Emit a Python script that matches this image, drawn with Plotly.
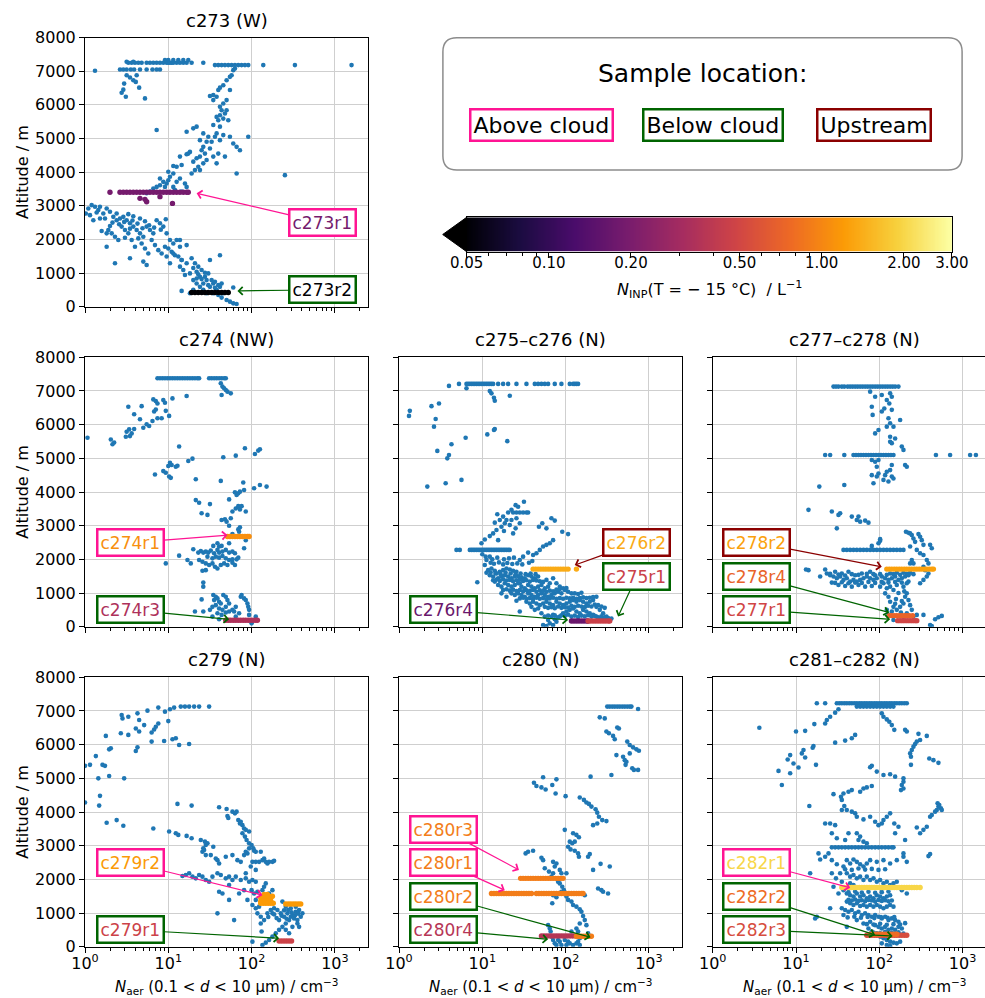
import numpy as np
import plotly.graph_objects as go

W, H = 985, 998
BLUE = '#1f77b4'
FONT = 'DejaVu Sans'
INFERNO = ['#000004', '#1b0c41', '#4a0c6b', '#781c6d', '#a52c60',
           '#cf4446', '#ed6925', '#fb9b06', '#f7d13d', '#fcffa4']
INP_MIN, INP_MAX = 0.05, 3.0
LOC_COLORS = {'above': '#ff1493', 'below': '#006400', 'up': '#8b0000'}

# ---------------------------------------------------------------------------
# Data: x values are log10(N_aer / cm^-3), y values are altitude in m
# scattered blue points: (log10 N_aer, altitude); legs: (altitude, [log10 N_aer, ...])
# ---------------------------------------------------------------------------
c273_bg = [(0.12,7010),(1.78,7030),(1.76,6880),(1.74,6830),(1.80,7080),
 (0.44,6360),(0.46,6450),(0.49,6240),(0.47,6630),(0.54,6810),(0.58,6730),(0.61,6680),(0.65,6510),(0.72,6190),(0.50,6880),(0.62,6880),
 (1.70,6730),(1.66,6580),(1.62,6510),(1.60,6440),(1.58,6240),(1.54,6290),(1.50,6260),(1.54,6140),(1.74,6440),(1.70,6140),(1.66,6040),
 (1.62,5940),(1.62,5690),(1.58,5640),(1.64,5840),(1.70,5840),(1.66,5590),(1.72,5540),(1.54,5400),(1.68,5740),(1.60,5540),(1.62,5350),
 (1.58,5150),(1.56,5050),(1.48,5050),(1.52,4900),(1.46,4900),(1.42,4750),(1.38,4950),(1.30,5300),(1.34,5350),(1.22,5200),(1.42,5150),
 (1.40,4650),(1.44,4550),(1.38,4460),(1.34,4410),(1.30,4310),(1.36,4160),(1.32,4060),(1.28,3960),(1.26,4600),(1.24,4550),(1.22,4530),
 (1.14,4460),(1.16,4210),(1.10,4160),(1.06,4180),(1.82,4750),(1.78,4850),(1.74,5050),(1.86,4650),(1.96,5050),(1.82,3960),(1.66,5100),
 (1.62,4950),(1.68,4460),(1.58,4260),(1.60,4550),(1.54,4460),(1.50,4700),(1.46,4360),(1.38,4060),(1.42,4260),(0.86,5250),(2.40,3910),
 (1.06,3960),(1.02,3860),(1.00,3760),(0.98,3660),(0.96,3560),(0.94,3710),(0.90,3610),(0.86,3560),(0.82,3510),(0.78,3420),(0.74,3370),
 (1.00,4010),(1.14,3810),(1.10,3710),(1.06,3560),(1.20,3660),(1.22,3560),(1.16,3420),(1.08,3470),(0.90,3810),
 (0.01,2770),(0.04,2920),(0.08,3020),(0.12,2970),(0.16,2870),(0.18,2970),(0.22,2770),(0.26,2920),(0.30,2820),(0.34,2670),(0.38,2770),
 (0.42,2620),(0.46,2670),(0.50,2570),(0.54,2480),(0.58,2380),(0.62,2280),(0.66,2180),(0.70,2080),(0.74,2380),(0.78,2280),(0.82,2180),
 (0.86,2570),(0.90,2480),(0.94,2380),(0.98,2180),(1.02,1980),(1.06,1880),(1.10,1980),(1.14,1780),(0.28,2280),(0.32,2180),(0.36,2080),
 (0.40,1980),(0.44,2380),(0.48,2280),(0.52,2180),(0.56,1980),(0.60,1780),(0.64,2030),(0.68,1880),(0.72,1730),(0.76,1580),(0.80,1980),
 (0.84,1830),(0.88,1680),(0.92,1580),(0.96,1780),(1.00,1730),(1.04,1630),(1.08,1530),(1.12,1490),(1.16,1390),(0.38,2570),(0.18,2620),
 (0.10,2570),(0.06,2720),(0.26,2180),(0.26,1780),(0.36,1290),(0.54,1440),(0.70,1340),(0.74,1240),
 (0.33,2500),(0.41,2450),(0.47,2520),(0.57,2560),(0.63,2470),(0.69,2330),(0.77,2420),(0.83,2350),(0.91,2290),(0.97,2600),
 (0.52,2750),(0.58,2690),(0.66,2620),(0.72,2540),(0.14,2800),(0.24,2620),(0.30,2400),(0.20,2250),(0.48,2050),(0.54,2320),
 (0.98,1490),(1.02,1290),(1.06,1580),(1.14,1190),(1.16,1390),(1.18,1090),(1.20,940),(1.22,1290),(1.26,990),(1.30,790),(1.34,1040),
 (1.38,890),(1.42,690),(1.46,790),(1.50,590),(1.54,690),(1.58,500),(1.62,590),(1.38,590),(1.34,690),(1.30,500),(1.26,400),(1.42,500),
 (1.46,400),(1.54,400),(1.60,350),(1.64,270),(1.70,200),(1.74,150),(1.78,100),(1.82,80),(1.16,470),(1.28,1440),(1.32,1290),(1.36,1190),
 (1.40,1090),(1.44,890),(1.48,990),(1.52,790),(1.56,740),(1.60,640),(1.64,690),(1.66,400),(1.78,570),(1.62,1530),(1.50,1390),
 (1.22,1830),(1.14,1980),(1.30,1150),(1.36,960),(1.40,820),(1.48,640),(1.44,1010),(1.34,840),(1.56,560)]
c273_legs = [
 (7050, [0.42,0.46,0.50,0.55,0.59,0.66,0.74,0.81,0.86,0.90]),
 (7250, [0.52,0.56,0.60,0.64,0.68,0.74,0.78,0.82,0.86,0.90,0.94,0.98,1.00,1.02,1.04,1.06,1.10,1.14,1.18,1.22,1.28,1.42]),
 (7330, [0.96,1.00,1.06,1.12,1.18,1.24]),
 (7280, [0.50,0.58]),
 (7180, [1.56,1.60,1.64,1.68,1.72,1.76,1.80,1.84,1.88,1.92,1.96,2.14,2.52,3.20])]
c273r1_pts = [(3400, [0.30,0.42,0.46,0.50,0.54,0.58,0.62,0.66,0.70,0.74,0.78,0.82,0.86,0.90,0.94,0.98,1.02,1.06,1.10,1.14,1.18,1.22,1.24]),
 (3220, [0.66]), (3190, [0.72]), (3120, [0.74]), (3070, [1.05]), (3270, [0.90])]
c273r2_pts = [(420, [1.28,1.32,1.36,1.40,1.44,1.48,1.52,1.56,1.60,1.64,1.68,1.72])]

c274_bg = [(1.63,7230),(1.65,7130),(1.67,7080),(1.69,7030),(1.71,6980),(1.75,6930),(1.64,6880),
 (0.03,5610),(0.31,5560),(0.33,5420),(0.35,5470),(0.52,6530),(0.59,6310),(0.66,6160),(0.68,6550),(0.50,5790),(0.53,5860),(0.54,5660),
 (0.56,5740),(0.59,5870),(0.49,5640),(0.70,5910),(0.74,6010),(0.77,5960),(0.82,6750),(0.83,6390),(0.85,6700),(0.87,6630),(0.81,6110),
 (0.87,6190),(0.92,6190),(0.94,6730),(0.96,6650),(0.97,6410),(1.01,6260),(1.05,6780),(1.22,6850),(0.85,6450),
 (0.84,4520),(0.94,4620),(0.97,4570),(1.00,4770),(1.02,4870),(1.04,4800),(1.01,4460),(1.03,4420),(1.09,4750),(1.11,4780),(1.13,5350),
 (1.24,4920),(1.29,4990),(1.33,4380),(1.66,5030),(1.81,5080),(1.92,5300),(2.04,5130),(2.08,5230),(2.10,5270),(1.63,4330),(1.82,3910),
 (1.84,3960),(1.86,4010),(1.80,3990),(1.90,4280),(1.91,4060),(2.03,4110),(2.10,4210),(2.18,4160),(1.33,3760),(1.37,3680),(1.50,3640),
 (1.40,3370),(1.47,3320),(1.64,3170),(1.68,3190),(1.70,3120),(1.73,3000),(1.75,3220),(1.73,3780),(1.77,3420),(1.81,3510),(1.84,3580),
 (1.88,3580),(1.86,3480),(1.84,2890),(1.85,2820),(1.86,2950),(1.93,3420),(1.77,2750),
 (1.30,2300),(1.36,2200),(1.39,2250),(1.42,2200),(1.45,2230),(1.48,2200),(1.51,2260),(1.55,2180),(1.59,2280),(1.61,2200),(1.65,2230),
 (1.69,2280),(1.73,2200),(1.77,2230),(1.80,2180),(1.47,2080),(1.53,2030),(1.57,2080),(1.61,2050),(1.65,2100),(1.69,2030),(1.73,1980),
 (1.77,2000),(1.82,2000),(1.84,2050),(1.37,1980),(1.41,1930),(1.45,1880),(1.49,1830),(1.53,1880),(1.56,1780),(1.59,1730),(1.63,1830),
 (1.67,1880),(1.71,1830),(1.77,1900),(1.80,1830),(1.45,1680),(1.27,1880),(1.23,1980),(1.41,1660),(0.97,1880),(1.13,2110),(1.54,2400),
 (1.61,2380),(1.64,2400),(1.59,2480),(1.91,2330),(1.73,2480),(1.93,2570),
 (1.42,1310),(1.42,1190),(1.40,810),(1.54,940),(1.57,890),(1.55,790),(1.59,840),(1.61,740),(1.63,690),(1.66,940),(1.69,890),(1.71,790),
 (1.73,690),(1.69,590),(1.65,500),(1.61,540),(1.57,640),(1.53,590),(1.50,500),(1.59,400),(1.64,350),(1.69,420),(1.73,450),(1.77,500),
 (1.81,590),(1.87,890),(1.88,940),(1.91,840),(1.93,790),(1.95,690),(1.96,590),(1.97,500),(1.81,300),(1.97,350),(1.73,200),(1.61,220),
 (1.32,450),(1.42,450),(2.00,100),(2.05,300),(1.85,400),(1.79,450),(1.53,300)]
c274_legs = [(7380, [0.87,0.90,0.93,0.96,0.99,1.02,1.05,1.08,1.11,1.14,1.17,1.20,1.23,1.26,1.29,1.32,1.35,1.37,
                     1.49,1.52,1.55,1.58,1.61,1.64,1.67,1.69])]
c274r1_pts = [(2680, [1.71,1.74,1.77,1.80,1.83,1.86,1.89,1.92,1.95,1.97])]
c274r3_pts = [(190, [1.69,1.72,1.75,1.78,1.81,1.84,1.87,1.90,1.93,1.96,1.99,2.02,2.05,2.07])]

c275_bg = [(0.60,7150),(0.81,7080),(1.09,7000),(1.11,6930),(1.14,6800),(1.15,6710),(1.33,6860),
 (0.13,6410),(0.12,6260),(0.39,6550),(0.48,6630),(0.44,6170),(0.42,5940),(0.80,5610),(1.06,5710),(1.14,5840),(1.15,5870),(1.30,5510),
 (0.63,5420),(0.46,5220),(0.60,5100),(0.58,5000),(0.34,4160),(0.56,4260),(0.75,4360),
 (1.50,3710),(1.40,3610),(1.43,3560),(1.35,3470),(1.31,3390),(1.18,3340),(1.25,3270),(1.21,3170),(1.15,3090),(1.29,3170),(1.27,3070),
 (1.33,3020),(1.23,2970),(1.17,2870),(1.13,2770),(1.09,2690),(0.99,2480),(1.03,2590),(1.19,2570),(1.26,2840),(1.40,2920),(1.37,2770),
 (1.45,3070),(1.35,3170),(1.41,3220),(1.72,3070),(1.68,2970),(1.77,2920),(1.83,3220),(1.87,3150),(1.96,2820),(2.03,2750),(1.85,2570),
 (1.81,2480),(1.77,2430),(1.73,2380),(1.69,2280),(1.65,2180),(1.61,2130),(1.55,2200),(1.49,2080),(1.45,1980),(1.09,2080),(1.05,1980),
 (1.03,1830),(1.04,2080),(0.94,1320),
 (1.07,1680),(1.11,1730),(1.15,1660),(1.09,1530),(1.13,1490),(1.17,1580),(1.21,1630),(1.25,1680),(1.29,1730),(1.33,1700),(1.37,1660),
 (1.41,1630),(1.15,1340),(1.19,1440),(1.23,1490),(1.27,1530),(1.31,1490),(1.35,1440),(1.39,1490),(1.43,1500),(1.47,1470),(1.51,1440),
 (1.55,1530),(1.59,1490),(1.63,1440),(1.67,1490),(1.19,1240),(1.23,1190),(1.27,1290),(1.31,1240),(1.35,1190),(1.39,1240),(1.43,1290),
 (1.47,1190),(1.51,1140),(1.55,1240),(1.59,1190),(1.63,1140),(1.67,1190),(1.71,1240),(1.75,1140),(1.79,1190),(1.35,990),(1.39,940),
 (1.43,990),(1.47,940),(1.51,890),(1.55,990),(1.59,940),(1.63,890),(1.67,940),(1.71,990),(1.75,940),(1.79,890),(1.83,940),(1.87,990),
 (1.91,1040),(1.95,990),(1.99,1090),(2.03,1040),(2.07,990),(2.11,990),(2.15,970),(2.19,1010),(1.53,740),(1.57,690),(1.61,740),(1.65,690),
 (1.69,640),(1.73,690),(1.77,740),(1.81,690),(1.85,640),(1.89,740),(1.93,690),(1.97,640),(2.01,690),(2.05,740),(2.09,790),(2.13,740),
 (2.17,790),(2.21,740),(2.25,690),(2.29,740),(2.33,790),(2.37,590),(2.41,500),(2.45,400),(2.49,300),(2.53,220),(1.71,400),(1.75,300),
 (1.79,200),(1.81,100),(1.85,50),(1.89,150),(1.93,300),(1.97,400),(2.01,450),(2.05,500),(2.09,540),(2.13,450),(2.17,400),(2.21,500),
 (2.25,450),(2.29,400),(2.33,350),(2.37,300),(2.41,250),(2.45,200),(1.73,50),(1.77,20),(1.45,450),(1.59,590),(1.63,500),(1.67,540),
 (1.41,770),(1.29,890),(1.23,990),(1.85,350),(1.87,220),(1.45,1290),(1.77,1390),(1.85,1440),(1.89,1290),(1.93,1190),(1.81,1290),
 (1.05,1600),(1.10,1610),(1.16,1590),(1.22,1560),(1.28,1600),(1.34,1580),(1.40,1560),(1.46,1580),(1.52,1560),(1.58,1580),(1.64,1560),
 (1.13,1380),(1.17,1400),(1.21,1360),(1.25,1410),(1.29,1370),(1.33,1390),(1.37,1350),(1.41,1380),(1.45,1400),(1.49,1360),(1.53,1380),
 (1.57,1340),(1.61,1390),(1.65,1370),(1.69,1350),(1.73,1330),
 (1.25,1090),(1.29,1110),(1.33,1070),(1.37,1100),(1.41,1060),(1.45,1090),(1.49,1050),(1.53,1080),(1.57,1060),(1.61,1090),(1.65,1040),
 (1.69,1080),(1.73,1060),(1.77,1040),(1.81,1070),(1.85,1050),(1.89,1100),(1.93,1120),(1.97,1140),(2.01,1150),
 (1.45,840),(1.49,860),(1.53,830),(1.57,850),(1.61,820),(1.65,860),(1.69,830),(1.73,850),(1.77,820),(1.81,840),(1.85,860),(1.89,830),
 (1.93,850),(1.97,830),(2.01,860),(2.05,840),(2.09,860),(2.13,830),(2.17,850),(2.21,870),(2.25,850),(2.29,860),(2.33,880),(2.37,890),
 (1.75,590),(1.79,560),(1.83,580),(1.87,550),(1.91,600),(1.95,560),(1.99,580),(2.03,570),(2.07,620),(2.11,590),(2.15,620),(2.19,600),
 (2.23,580),(2.27,620),(2.31,600),(2.35,660),(2.39,640),(2.43,600),(2.47,560),
 (1.79,330),(1.83,300),(1.87,340),(1.91,280),(1.95,340),(1.99,320),(2.03,360),(2.07,300),(2.11,330),(2.15,290),(2.19,330),(2.23,310),
 (2.27,340),(2.31,300),(2.35,320),(2.39,280),(2.43,310),(2.47,280),(2.51,260),(2.55,240),
 (1.10,1900),(1.14,1870),(1.20,1910),(1.25,1850),(1.30,1890),(1.36,1860),(1.42,1880),(1.48,1850),(1.56,1900),(1.60,1950),
 (1.00,2150),(1.12,2000),(1.18,2050),(1.26,2000),(1.32,2030),(1.38,2050)]
c275_legs = [
 (7210, [0.72,0.81,0.83,0.85,0.87,0.89,0.91,0.93,0.95,0.97,0.99,1.01,1.03,1.05,1.07,1.09,1.11,1.13,1.19,1.25,1.31,1.41,1.53,
         1.63,1.67,1.71,1.75,1.79,1.87,1.95,2.05,2.09,2.11,2.13,2.15]),
 (2280, [0.69,0.73,0.85,0.87,0.89,0.91,0.93,0.95,0.97,0.99,1.01,1.03,1.05,1.07,1.09,1.11,1.13,1.15,1.17,1.19,1.21,1.23,1.25,
         1.27,1.29,1.31,1.33]),
 (3390, [1.37,1.41,1.45,1.49,1.53,1.55])]
c276r2_pts = [(1710, [1.61,1.64,1.67,1.70,1.73,1.76,1.79,1.82,1.85,1.88,1.91,1.94,1.97,2.00,2.03,2.13])]
c276r4_pts = [(170, [2.07,2.10,2.13,2.16,2.19,2.22,2.25,2.27])]
c275r1_pts = [(170, [2.27,2.30,2.33,2.36,2.39,2.42,2.45,2.48,2.51,2.53])]

c277_bg = [(1.89,6980),(1.95,6830),(2.03,6880),(2.13,6930),(2.15,6830),(2.09,6730),(2.12,6630),(1.91,6530),(2.06,6480),(2.03,6390),
 (2.15,6440),(1.92,6290),(2.11,6190),(2.25,6140),(2.13,6040),(2.09,5940),(2.17,5940),(1.99,5840),(1.95,5740),(2.13,5640),(2.19,5590),
 (2.13,5490),(2.15,5450),(2.27,5350),(2.29,5250),
 (1.91,4950),(1.95,4900),(1.99,4950),(1.97,4750),(2.15,4800),(2.31,4800),(2.33,4750),(2.13,4650),(2.09,4600),(2.07,4500),(1.99,4550),
 (1.91,4500),(1.97,4460),(2.05,4360),(2.11,4310),(1.93,4260),(2.15,4460),(2.17,4400),(1.28,4160),(1.58,4210),
 (1.15,3470),(1.43,3420),(1.53,3370),(1.51,3320),(1.67,3270),(1.75,3270),(1.73,3170),(1.77,3120),(1.83,3150),(1.87,3090),(1.49,2920),
 (2.01,2550),(2.01,2600),(1.99,2480),(1.91,2400),
 (2.32,2820),(2.35,2790),(2.37,2770),(2.39,2720),(2.41,2620),(2.43,2520),(2.47,2750),(2.49,2670),(2.51,2570),(2.53,2430),(2.61,2430),
 (2.63,2330),(2.45,2280),(2.49,2180),(2.53,2130),(2.57,1980),(2.59,1880),(2.53,1780),(2.55,1680),(2.59,1580),(2.57,1490),(2.53,1390),
 (2.49,1290),(2.37,2380),(2.39,1980),(2.37,1880),(2.41,1880),
 (1.12,1700),(1.15,1680),(1.29,1490),(1.35,1700),(1.37,1580),(1.41,1530),(1.45,1490),(1.49,1440),(1.53,1490),(1.57,1390),(1.61,1440),
 (1.65,1340),(1.69,1390),(1.73,1340),(1.77,1390),(1.81,1440),(1.85,1490),(1.89,1440),(1.93,1390),(1.97,1440),(1.43,1310),(1.51,1240),
 (1.59,1210),(1.67,1190),(1.75,1240),(1.83,1190),(1.91,1210),(1.47,1630),(1.55,1580),(1.63,1630),(1.71,1530),(1.79,1580),(1.89,1630),
 (1.95,1530),
 (1.47,1300),(1.55,1320),(1.63,1290),(1.71,1310),(1.79,1300),(1.87,1330),(1.95,1300),(2.03,1330),(2.11,1310),(2.19,1330),(2.27,1310),
 (2.35,1340),(1.41,1570),(1.51,1550),(1.59,1520),(1.67,1560),(1.75,1540),(1.85,1570),(1.93,1560),(2.01,1560),(2.09,1540),(2.17,1560),
 (2.25,1540),(2.33,1570),(2.41,1560),
 (2.03,1490),(2.07,1440),(2.11,1390),(2.15,1440),(2.19,1490),(2.23,1390),(2.27,1440),(2.31,1490),(2.35,1530),(2.05,1290),(2.13,1190),
 (2.21,1240),(2.29,1190),(2.33,1290),(2.13,1580),(2.21,1600),(2.29,1600),(2.37,1600),(2.17,1090),(2.09,1140),(2.01,1190),
 (2.07,990),(2.11,890),(2.13,740),(2.17,590),(2.21,500),(2.25,590),(2.29,690),(2.31,890),(2.33,990),(2.35,790),(2.37,640),(2.39,500),
 (2.33,400),(2.29,300),(2.41,300),(2.45,350),(2.53,350),(2.61,50),(2.63,20),(2.67,220),(2.71,280),(2.75,320),(2.17,200),(2.11,350),
 (2.15,450),(2.09,500),(2.20,820),(2.27,760),(2.23,1000),(2.30,1050),(2.19,680),(2.26,420)]
c277_legs = [
 (7130, [1.45,1.48,1.51,1.55,1.58,1.62,1.65,1.68,1.71,1.74,1.77,1.80,1.83,1.86,1.89,1.92,1.95,1.98,2.01,2.04,2.07,2.10,2.13,
         2.16,2.19,2.23]),
 (5100, [1.35,1.41,1.58,1.69,1.72,1.75,1.78,1.81,1.84,1.87,1.90,1.93,1.96,1.99,2.02,2.05,2.08,2.11,2.14,2.17,2.68,2.85,3.09,3.16]),
 (2280, [1.57,1.61,1.65,1.69,1.73,1.77,1.81,1.85,1.89,1.93,1.97,2.01,2.05,2.09,2.13,2.17,2.21,2.25,2.29])]
c278r2_pts = [(1710, [2.09,2.12,2.15,2.18,2.21,2.24,2.27,2.30,2.33,2.36,2.39,2.42,2.45,2.48,2.51,2.54,2.57,2.60,2.63,2.65])]
c278r4_pts = [(330, [2.12,2.15,2.18,2.21,2.24,2.27,2.30,2.33,2.36,2.40])]
c277r1_pts = [(180, [2.22,2.25,2.28,2.31,2.34,2.37,2.40,2.43,2.45])]

c279_bg = [(1.49,7130),(1.37,7130),(1.31,7130),(1.25,7130),(1.20,7130),(1.15,7130),(1.07,7100),(1.02,7050),(1.00,6700),(0.96,6980),
 (0.88,7100),(0.75,7010),(0.63,6930),(0.52,6830),(0.44,6880),(0.45,6780),(0.65,6730),(0.71,6580),(0.61,6480),(0.65,6390),(0.88,6630),
 (0.85,6530),(0.83,6450),(0.80,6360),(0.52,6290),(0.43,6340),(0.80,6090),(0.95,6110),(1.05,6160),(1.09,6190),(1.13,5990),(1.25,6020),
 (0.25,6260),(0.31,5890),(0.29,5860),(0.63,5920),(0.61,5810),(0.13,5660),(0.06,5400),(0.00,5370),(0.21,5400),(0.24,5370),(0.16,5000),
 (0.29,5070),(0.47,5000),(0.18,4480),(0.17,4190),(0.00,4280),(0.26,3680),(0.38,3760),(0.46,3590),(0.82,3510),
 (1.01,3420),(1.09,3370),(1.12,3320),(1.22,3290),(1.28,3220),(1.11,4240),(1.28,4190),(1.61,4140),(1.70,4090),(1.71,3880),(1.72,3820),
 (1.77,4010),(1.80,3960),(1.82,4010),(1.84,3760),(1.86,3660),(1.87,3710),(1.89,3610),(1.91,3510),(1.93,3470),(1.97,3420),(1.89,3370),
 (1.92,3270),(1.94,3170),(1.97,3070),(2.00,3020),(2.02,2920),(2.03,2850),(1.93,2820),(1.91,2720),(1.95,2770),(1.97,2920),(1.39,3170),
 (1.44,3120),(1.45,3020),(1.47,3070),(1.54,2970),(1.42,2920),(1.41,2820),(1.45,2720),(1.43,2870),(1.51,2720),(1.57,2620),(1.59,2570),
 (1.61,2470),(1.69,2670),(1.77,2720),(1.83,2570),(1.87,2520),(2.01,2520),(2.05,2520),(2.09,2520),(2.13,2570),(2.17,2520),(2.21,2520),
 (2.25,2520),(2.27,2550),(2.15,2620),(2.19,2470),(2.05,2820),(2.11,2820),
 (1.17,2100),(1.21,2130),(1.25,2180),(1.29,2080),(1.33,2030),(1.37,2130),(1.41,2080),(1.45,1980),(1.49,1930),(1.53,2080),(1.59,2180),
 (1.63,2130),(1.69,2030),(1.73,2080),(1.77,1980),(1.81,2080),(1.87,1980),(1.93,2030),(1.97,1930),(2.01,1980),(2.05,1930),(1.93,2180),
 (1.99,2380),(2.05,2280),(1.61,1630),(1.65,1580),(1.73,1390),(1.59,990),(1.79,790),(1.73,1830),(1.85,1580),(1.91,1680),(1.95,1390),
 (2.00,1680),(2.03,1580),(2.07,1630),(2.13,1680),(2.15,1780),(2.17,1880),(2.21,1580),(2.25,1680),
 (2.01,1240),(2.05,1140),(2.09,1190),(2.07,990),(2.11,890),(2.15,790),(2.19,990),(2.23,1090),(2.27,1140),(2.31,1090),(2.35,990),
 (2.39,890),(2.43,990),(2.47,890),(2.51,840),(2.55,790),(2.59,890),(2.61,990),(2.57,1090),(2.53,1040),(2.49,940),(2.45,790),(2.41,690),
 (2.37,590),(2.33,500),(2.29,400),(2.25,300),(2.21,200),(2.17,120),(2.13,50),(2.01,150),(2.11,690),(2.12,450),(2.41,500),(2.49,590),
 (2.55,690),(2.57,590),(2.45,400),(2.33,790),(2.25,990),(2.17,1390),(2.05,1390),(2.41,1190),(2.47,1140),(2.53,1190),(2.37,1340),
 (2.30,850),(2.36,920),(2.42,830),(2.48,1020),(2.52,930),(2.39,1080),(2.27,960),(2.20,880),(2.44,1090),(2.56,980)]
c279_legs = []
c279r2_pts = [(1550, [2.15,2.19]), (1500, [2.13,2.17,2.21,2.25]), (1450, [2.11,2.15,2.19,2.23]), (1400, [2.13,2.17,2.21]),
 (1350, [2.11,2.15,2.19,2.23]), (1290, [2.11,2.14,2.17,2.20,2.23,2.26]), (1270, [2.41,2.44,2.47,2.50,2.53,2.56,2.59])]
c279r1_pts = [(170, [2.33,2.36,2.39,2.42,2.45,2.48])]

c280_bg = [(2.87,7060),(2.41,6810),(2.47,6780),(2.62,6510),(2.64,6480),(2.49,6390),(2.52,6340),(2.57,6260),(2.59,6160),(2.74,6090),
 (2.77,5990),(2.81,5920),(2.85,5860),(2.88,5820),(2.61,5690),(2.69,5640),(2.71,5540),(2.72,5400),(2.73,5490),(2.77,5740),(2.80,5300),
 (2.82,5250),(2.87,5250),(2.55,5100),(2.30,5050),
 (1.62,4870),(1.65,4770),(1.73,5030),(1.71,4730),(1.76,4670),(1.84,4800),(1.89,4970),(1.88,4550),(2.00,4470),(2.17,4430),(2.22,4360),
 (2.25,4280),(2.28,4240),(2.31,4160),(2.36,4080),(2.38,3980),(2.40,3860),(2.44,3760),(2.49,3730),(2.33,3610),(2.38,3660),
 (1.99,3470),(2.09,3370),(2.13,3320),(2.16,3250),(2.05,3120),(2.08,3070),(2.11,3120),(2.03,2970),(2.06,2890),(2.11,2850),(2.15,2770),
 (2.16,2670),(2.27,2670),(2.29,2750),(1.52,2770),(1.55,2820),(1.61,2850),(1.71,2640),(1.73,2570),(1.85,2520),(1.89,2470),(1.87,2380),
 (1.93,2280),(1.95,2180),(2.33,2280),(2.42,2460),(2.53,2380),(1.75,2330),(1.80,2230),(1.85,2180),(1.83,2080),(1.89,2030),(2.01,2180),
 (1.91,1930),(1.93,1880),(1.96,1780),(1.98,1680),(1.95,1630),(1.99,1580),(2.01,1490),(1.85,1530),(1.89,1470),(1.84,1290),(2.03,1390),
 (2.07,1340),(2.09,1240),(2.13,1190),(2.17,1110),(2.19,1040),(2.21,910),(2.23,790),(2.17,690),(2.25,640),(2.13,540),(2.07,450),
 (2.15,450),(2.39,1730),(2.43,1680),(2.45,1630),(2.51,1580),(2.19,1580),(2.23,1530),
 (1.79,640),(1.81,540),(1.82,450),(1.83,300),(1.85,200),(1.87,100),(1.89,50),(1.93,150),(1.99,200),(2.03,150),(2.05,100),(2.09,50),
 (2.13,100),(2.15,150),(2.17,50),(2.01,50),(1.95,50),(1.91,200),(2.17,250),(2.27,400)]
c280_legs = [(7130, [2.50,2.53,2.56,2.59,2.62,2.65,2.68,2.71,2.74,2.77,2.79])]
c280r3_pts = [(2030, [1.46,1.49,1.52,1.55,1.58,1.61,1.64,1.67,1.70,1.73,1.76,1.79,1.82,1.85,1.88,1.91,1.94,1.97])]
c280r1_pts = [(1580, [1.11,1.14,1.17,1.20,1.23,1.26,1.29,1.32,1.35,1.38,1.41,1.44,1.47,1.50,1.53,1.56,1.59,
                      1.65,1.68,1.71,1.74,1.77,1.80,1.83,1.86,1.89,1.92,1.95,1.98,2.01,2.04,2.07,2.10,2.13,2.16,2.19,2.21])]
c280r4_pts = [(320, [1.71,1.74,1.77,1.80,1.83,1.86,1.89,1.92,1.95,1.98,2.01,2.04,2.07,2.10,2.13])]
c280r2_pts = [(310, [2.13,2.16,2.19,2.22,2.25,2.28,2.31])]

c281_bg = [(1.51,7050),(1.47,6950),(1.41,6830),(1.37,6730),(1.35,6630),(1.22,6610),(1.11,6410),(0.56,6500),(1.00,6390),(2.03,6930),
 (2.05,6830),(2.09,6750),(2.12,6680),(2.15,6580),(2.18,6440),(2.31,6440),(2.33,6390),(2.47,6320),(2.57,6260),(2.49,6140),(2.45,6090),
 (2.43,6020),(2.41,5940),(2.39,5840),(2.37,5740),(2.38,5640),(1.71,6290),(1.67,6190),(1.59,6120),(1.47,6060),(2.60,5590),(2.65,5540),
 (2.71,5460),(2.38,5400),
 (1.21,5960),(1.20,5910),(1.09,5840),(1.07,5740),(1.11,5620),(0.93,5690),(0.90,5560),(0.97,5440),(1.03,5320),(0.79,5220),(0.83,4800),
 (0.93,5150),(1.24,5400),(1.16,4180),(1.89,5330),(1.91,5370),(1.97,5200),(2.05,5100),(2.13,5120),(2.19,5050),(2.29,5000),(2.29,4900),
 (2.27,4800),(2.29,4700),(2.26,4650),(1.91,4770),(1.85,4730),(1.81,4700),(1.77,4600),(1.67,4650),(1.63,4600),(1.57,4550),(1.54,4450),
 (1.55,4360),(1.58,4180),(1.61,4060),(1.67,4010),(1.71,3960),(1.73,3860),(1.45,4530),(1.55,4060),(1.81,3780),(1.89,3860),(1.95,3710),
 (1.99,3610),(2.03,3660),(2.05,3760),(2.09,3860),(2.13,3960),(2.18,3660),(2.23,3560),(2.19,3370),(2.31,3170),(2.45,3540),(2.49,3370),
 (2.53,3470),(2.57,3560),(2.61,3860),(2.63,3910),(2.67,4010),(2.69,4060),(2.71,4160),(2.70,4260),(2.72,4210),(2.74,4110),(2.75,4060),
 (1.35,3660),(1.41,3660),(1.47,3610),(1.43,3370),(1.49,3220),(1.59,3170),(1.73,3370),(1.77,3270),(1.75,3170),(1.81,3120),(1.85,3070),
 (1.27,2770),(1.29,2590),(1.35,2670),(1.39,2770),(1.43,2570),(1.49,2450),(1.57,2380),(1.61,2570),(1.65,2470),(1.69,2590),(1.73,2520),
 (1.77,2450),(1.81,2380),(1.85,2470),(1.89,2570),(1.97,2520),(2.05,2570),(2.13,2470),(2.21,2570),(2.29,2670),(2.33,2520),(2.59,2690),
 (2.61,2750),(1.23,840),(1.25,890),(1.17,2180),(1.41,1140),(1.45,1780),(1.51,1580),
 (1.61,2180),(1.65,2080),(1.69,2130),(1.73,2030),(1.77,2080),(1.81,1980),(1.85,2080),(1.89,1980),(1.93,2030),(1.97,1930),(2.01,1980),
 (2.05,1880),(2.09,1930),(2.13,1830),(2.17,1880),(2.21,1930),(1.65,1880),(1.69,1830),(1.57,1680),(1.61,1580),(1.65,1530),(1.69,1490),
 (1.73,1580),(1.77,1490),(1.81,1530),(1.85,1440),(1.89,1490),(1.93,1440),(1.97,1530),(2.01,1490),(2.05,1440),(2.09,1490),(2.13,1530),
 (1.61,1340),(1.65,1290),(1.69,1240),(1.73,1290),(1.77,1210),(1.81,1240),(1.85,1190),(1.89,1240),(1.93,1190),(1.97,1240),(2.01,1190),
 (2.05,1140),(2.09,1190),(2.13,1240),(2.17,1190),(1.55,1140),(1.59,1090),(1.63,1040),(1.67,1090),(1.71,990),(1.75,1040),(1.79,940),
 (1.83,990),(1.87,940),(1.91,890),(1.95,940),(1.99,890),(2.03,840),(2.07,890),(2.11,790),(2.15,840),(2.19,790),(2.23,740),(1.73,790),
 (1.81,690),(1.89,740),(1.95,640),(1.99,590),(2.03,540),(2.07,590),(2.11,500),(2.15,540),(2.19,500),(2.23,590),(2.27,540),(1.97,400),
 (2.01,300),(2.05,250),(2.09,200),(2.13,150),(2.17,120),(2.21,100),(2.25,150),(2.03,100),(2.09,50),(2.13,20),(1.91,450),(1.87,540),
 (2.29,2770),(1.63,3370),(1.53,2180),(1.48,2030),(1.43,2180),(1.55,1930),(2.27,1680),(2.33,1580),(1.57,940),(1.61,590),
 (1.63,1390),(1.67,1370),(1.71,1400),(1.75,1360),(1.79,1380),(1.83,1350),(1.87,1390),(1.91,1370),(1.95,1340),(1.99,1390),(2.03,1360),
 (2.07,1380),(2.11,1350),(2.15,1370),(1.62,870),(1.70,890),(1.78,860),(1.86,880),(1.94,850),(2.02,880),(2.10,860),(2.18,880),
 (1.85,670),(1.93,660),(2.01,680),(2.09,650),(2.17,670),(2.25,660),(2.31,700),(1.93,420),(2.01,400),(2.07,440),(2.15,410),(2.23,430),
 (2.29,390),(1.59,2300),(1.67,2280),(1.75,2320),(1.83,2290),(1.91,2310),(1.99,2280),(2.07,2300),(1.63,1620),(1.71,1640),(1.79,1610),
 (1.87,1630),(1.95,1600),(2.03,1620),(2.11,1640)]
c281_legs = [
 (7230, [1.25,1.35,1.49,1.52,1.55,1.58,1.61,1.64,1.67,1.70,1.73,1.76,1.79,1.82,1.85,1.88,1.91,1.94,1.97,2.00,2.03,2.06,2.09,
         2.12,2.15,2.18,2.21,2.24,2.27,2.30,2.33]),
 (7130, [1.73,1.77,1.81,1.85,1.89,1.93,1.97,2.01,2.05,2.09,2.13,2.17]),
 (2950, [1.43,1.47,1.51,1.55,1.59,1.63,1.67,1.71,1.75,1.79,1.83,1.87,1.91,1.95,1.99,2.03,2.07,2.11,2.15,2.17])]
c282r1_pts = [(1760, [1.55,1.58,1.61,1.64,1.67,1.70,1.73,1.76,1.79,1.82,1.85,1.88,1.91,1.94,1.97,2.00,2.03,2.06,2.09,2.12,2.15,
                      2.18,2.21,2.24,2.27,2.30,2.33,2.36,2.39,2.42,2.45,2.49])]
c282r3_pts = [(340, [1.85,1.88,1.91,1.94,1.97,2.00,2.03,2.06,2.09,2.12,2.15,2.18,2.21,2.24,2.27,2.30,2.33])]
c282r2_pts = [(370, [1.89,1.92,1.95,1.98,2.01,2.04,2.07,2.10,2.13,2.16,2.19,2.21])]

# INP concentration of each filter sample (L^-1) -> colour
sample_inp = {'c273r1': 0.19, 'c273r2': 0.04, 'c274r1': 1.08, 'c274r3': 0.34, 'c276r2': 1.38, 'c276r4': 0.17,
              'c275r1': 0.46, 'c278r2': 1.27, 'c278r4': 0.72, 'c277r1': 0.49, 'c279r2': 1.20, 'c279r1': 0.47,
              'c280r3': 0.92, 'c280r1': 0.92, 'c280r2': 0.92, 'c280r4': 0.37, 'c282r1': 2.00, 'c282r2': 0.78,
              'c282r3': 0.54}

# colour bar ticks
cb_major = [0.05, 0.1, 0.2, 0.5, 1.0, 2.0, 3.0]
cb_major_text = ['0.05', '0.10', '0.20', '0.50', '1.00', '2.00', '3.00']
cb_minor = [0.06, 0.07, 0.08, 0.09, 0.3, 0.4, 0.6, 0.7, 0.8, 0.9]

# panel definitions: title, column, row, blue points, blue legs,
# samples: (name, points, location, label position (log10 N, alt), arrow tip (log10 N, alt))
panels = [
    ('c273 (W)', 1, 1, c273_bg, c273_legs, [
        ('c273r1', c273r1_pts, 'above', (2.85, 2500), (1.34, 3370)),
        ('c273r2', c273r2_pts, 'below', (2.85, 500), (1.83, 470))]),
    ('c274 (NW)', 1, 2, c274_bg, c274_legs, [
        ('c274r1', c274r1_pts, 'above', (0.55, 2490), (1.71, 2720)),
        ('c274r3', c274r3_pts, 'below', (0.55, 500), (1.73, 220))]),
    ('c275–c276 (N)', 2, 2, c275_bg, c275_legs, [
        ('c276r2', c276r2_pts, 'up', (2.85, 2490), (2.11, 1830)),
        ('c276r4', c276r4_pts, 'below', (0.54, 500), (2.03, 200)),
        ('c275r1', c275r1_pts, 'below', (2.85, 1480), (2.63, 300))]),
    ('c277–c278 (N)', 3, 2, c277_bg, c277_legs, [
        ('c278r2', c278r2_pts, 'up', (0.53, 2490), (2.03, 1780)),
        ('c278r4', c278r4_pts, 'below', (0.53, 1480), (2.12, 420)),
        ('c277r1', c277r1_pts, 'below', (0.53, 500), (2.13, 220))]),
    ('c279 (N)', 1, 3, c279_bg, c279_legs, [
        ('c279r2', c279r2_pts, 'above', (0.55, 2490), (2.13, 1530)),
        ('c279r1', c279r1_pts, 'below', (0.55, 500), (2.33, 250))]),
    ('c280 (N)', 2, 3, c280_bg, c280_legs, [
        ('c280r3', c280r3_pts, 'above', (0.54, 3470), (1.44, 2280)),
        ('c280r1', c280r1_pts, 'above', (0.54, 2490), (1.27, 1680)),
        ('c280r4', c280r4_pts, 'below', (0.54, 500), (1.79, 220)),
        ('c280r2', c280r2_pts, 'below', (0.54, 1480), (2.30, 280))]),
    ('c281–c282 (N)', 3, 3, c281_bg, c281_legs, [
        ('c282r1', c282r1_pts, 'above', (0.53, 2490), (1.65, 1750)),
        ('c282r3', c282r3_pts, 'below', (0.53, 500), (2.16, 320)),
        ('c282r2', c282r2_pts, 'below', (0.53, 1480), (1.95, 350))]),
]

# ---------------------------------------------------------------------------
def hex2rgb(h):
    h = h.lstrip('#')
    return [int(h[i:i + 2], 16) for i in (0, 2, 4)]


def inp_color(v):
    t = (np.log10(v) - np.log10(INP_MIN)) / (np.log10(INP_MAX) - np.log10(INP_MIN))
    t = min(max(t, 0.0), 1.0)
    pos = t * (len(INFERNO) - 1)
    i = int(min(pos, len(INFERNO) - 2))
    f = pos - i
    a, b = hex2rgb(INFERNO[i]), hex2rgb(INFERNO[i + 1])
    c = [round(a[k] + (b[k] - a[k]) * f) for k in range(3)]
    return f'rgb({c[0]},{c[1]},{c[2]})'


def expand(groups):
    xs, ys = [], []
    for alt, lgs in groups:
        for lg in lgs:
            xs.append(10 ** lg)
            ys.append(alt)
    return xs, ys


# pixel layout
col_px = {1: (85.0, 368.3), 2: (399.0, 682.3), 3: (712.7, 985.0)}
row_px = {1: (37.5, 306.7), 2: (357.3, 626.7), 3: (677.3, 946.7)}
DEC_PX = 83.3

fig = go.Figure()
annotations = []
layout_axes = {}
minor_x = [m * 10 ** e for e in range(0, 4) for m in range(2, 10) if m * 10 ** e < 3000]

for idx, (title, col, row, bg, legs, samples) in enumerate(panels, start=1):
    xa, ya = f'x{idx}', f'y{idx}'
    x0p, x1p = col_px[col]
    y0p, y1p = row_px[row]
    xr = (x1p - x0p) / DEC_PX

    xs = [10 ** p[0] for p in bg]
    ys = [p[1] for p in bg]
    lx, ly = expand(legs)
    fig.add_trace(go.Scatter(x=xs + lx, y=ys + ly, mode='markers', xaxis=xa, yaxis=ya,
                             marker=dict(color=BLUE, size=4.6, line=dict(width=0)),
                             showlegend=False, hoverinfo='skip'))
    for name, pts, loc, box, tip in samples:
        sx, sy = expand(pts)
        col_s = inp_color(sample_inp[name])
        fig.add_trace(go.Scatter(x=sx, y=sy, mode='markers', xaxis=xa, yaxis=ya,
                                 marker=dict(color=col_s, size=5.4, line=dict(width=0)),
                                 showlegend=False, hoverinfo='skip'))
        annotations.append(dict(
            x=tip[0], y=tip[1], ax=box[0], ay=box[1], xref=xa, yref=ya, axref=xa, ayref=ya,
            text=name, showarrow=True, arrowhead=4, arrowsize=1.3, arrowwidth=1.2,
            arrowcolor=LOC_COLORS[loc], standoff=0,
            font=dict(size=17, color=col_s, family=FONT),
            bgcolor='white', bordercolor=LOC_COLORS[loc], borderwidth=2.5, borderpad=2))

    bottom = row == 3
    left = col == 1
    key = '' if idx == 1 else str(idx)
    layout_axes['xaxis' + key] = dict(
        type='log', range=[0, xr], domain=[x0p / W, x1p / W], anchor=ya, automargin=False,
        tickvals=[1, 10, 100, 1000],
        ticktext=['10<sup>0</sup>', '10<sup>1</sup>', '10<sup>2</sup>', '10<sup>3</sup>'],
        showticklabels=bottom, ticks='outside', ticklen=5, tickcolor='black', tickwidth=1,
        ticklabelstandoff=-3,
        showline=True, linecolor='black', linewidth=1, mirror=True,
        showgrid=True, gridcolor='#cfcfcf', gridwidth=1, zeroline=False,
        tickfont=dict(size=16, color='black'),
        minor=dict(tickmode='array', tickvals=minor_x, ticks='outside', ticklen=3,
                   tickcolor='black', tickwidth=1, showgrid=False))
    yax = dict(
        range=[0, 8000], domain=[1 - y1p / H, 1 - y0p / H], anchor=xa, automargin=False,
        tickvals=list(range(0, 8001, 1000)), showticklabels=left,
        ticks='outside', ticklen=5, tickcolor='black', tickwidth=1,
        showline=True, linecolor='black', linewidth=1, mirror=(col != 3),
        showgrid=True, gridcolor='#cfcfcf', gridwidth=1, zeroline=False,
        tickfont=dict(size=16, color='black'))
    if left:
        yax['title'] = dict(text='Altitude / m', standoff=2, font=dict(size=16, color='black'))
    layout_axes['yaxis' + key] = yax

    annotations.append(dict(x=(x0p + (x0p + 283.3)) / 2 / W, y=1 - y0p / H, xref='paper', yref='paper',
                            text=title, showarrow=False, xanchor='center', yanchor='bottom', yshift=5,
                            font=dict(size=18, color='black', family=FONT)))
    if bottom:
        annotations.append(dict(x=(x0p + (x0p + 283.3)) / 2 / W, y=0, xref='paper', yref='paper',
                                text='<i>N</i><sub>aer</sub> (0.1 &lt; <i>d</i> &lt; 10 µm) / cm<sup>−3</sup>',
                                showarrow=False, xanchor='center', yanchor='bottom', yshift=-1,
                                font=dict(size=15, color='black', family=FONT)))

# ---------------------------------------------------------------------------
# colour bar (separate axis)
cbx0, cbx1, cby0, cby1 = 466.7, 951.9, 217.3, 251.7
lo, hi = np.log10(INP_MIN), np.log10(INP_MAX)
grad = np.linspace(lo, hi, 400)
fig.add_trace(go.Heatmap(z=[grad], x=grad, y=[0.5], colorscale='Inferno', zmin=lo, zmax=hi,
                         showscale=False, xaxis='x8', yaxis='y8', hoverinfo='skip'))
layout_axes['xaxis8'] = dict(
    domain=[cbx0 / W, cbx1 / W], range=[lo, hi], anchor='y8', automargin=False,
    tickvals=[np.log10(v) for v in cb_major], ticktext=cb_major_text,
    ticks='outside', ticklen=5, tickcolor='black', showline=True, linecolor='black', linewidth=1,
    ticklabelstandoff=-8,
    mirror=True, showgrid=False, zeroline=False, tickfont=dict(size=15, color='black'),
    minor=dict(tickmode='array', tickvals=[np.log10(v) for v in cb_minor], ticks='outside',
               ticklen=3, tickcolor='black', showgrid=False))
layout_axes['yaxis8'] = dict(
    domain=[1 - cby1 / H, 1 - cby0 / H], range=[0, 1], anchor='x8', showticklabels=False, automargin=False,
    ticks='', showline=True, linecolor='black', linewidth=1, mirror=True, showgrid=False, zeroline=False)

shapes = []
ym = 1 - (cby0 + cby1) / 2 / H
shapes.append(dict(type='path', xref='paper', yref='paper',
                   path=f'M {442.7 / W},{ym} L {cbx0 / W},{1 - cby0 / H} L {cbx0 / W},{1 - cby1 / H} Z',
                   fillcolor='black', line=dict(color='black', width=1)))
annotations.append(dict(x=709 / W, y=1 - 290 / H, xref='paper', yref='paper', showarrow=False,
                        text='<i>N</i><sub>INP</sub>(T = − 15 °C)  / L<sup>−1</sup>',
                        xanchor='center', yanchor='middle', font=dict(size=16, color='black', family=FONT)))

# legend box (rounded rectangle)
lx0, lx1, ly0, ly1, r = 442.9, 962.1, 37.7, 170.0, 14.0
X0, X1 = lx0 / W, lx1 / W
Yt, Yb = 1 - ly0 / H, 1 - ly1 / H
rx, ry = r / W, r / H
path = (f'M {X0 + rx},{Yt} L {X1 - rx},{Yt} Q {X1},{Yt} {X1},{Yt - ry} L {X1},{Yb + ry} '
        f'Q {X1},{Yb} {X1 - rx},{Yb} L {X0 + rx},{Yb} Q {X0},{Yb} {X0},{Yb + ry} L {X0},{Yt - ry} '
        f'Q {X0},{Yt} {X0 + rx},{Yt} Z')
shapes.append(dict(type='path', xref='paper', yref='paper', path=path, fillcolor='white',
                   line=dict(color='#8c8c8c', width=1.5), layer='below'))
annotations.append(dict(x=702 / W, y=1 - 74 / H, xref='paper', yref='paper', showarrow=False,
                        text='Sample location:', xanchor='center', yanchor='middle',
                        font=dict(size=25, color='black', family=FONT)))
for txt, cx, loc in [('Above cloud', 541.5, 'above'), ('Below cloud', 713.1, 'below'), ('Upstream', 873.5, 'up')]:
    annotations.append(dict(x=cx / W, y=1 - 124.5 / H, xref='paper', yref='paper', showarrow=False,
                            text=txt, xanchor='center', yanchor='middle',
                            bgcolor='white', bordercolor=LOC_COLORS[loc], borderwidth=2.5, borderpad=2,
                            font=dict(size=22, color='black', family=FONT)))

fig.update_layout(
    width=W, height=H, margin=dict(l=0, r=0, t=0, b=0, autoexpand=False),
    paper_bgcolor='white', plot_bgcolor='white',
    font=dict(family=FONT, color='black'),
    showlegend=False, annotations=annotations, shapes=shapes, **layout_axes)

fig.write_html('out.html', config={'displayModeBar': False},
               post_script="document.body.style.margin='0';")
